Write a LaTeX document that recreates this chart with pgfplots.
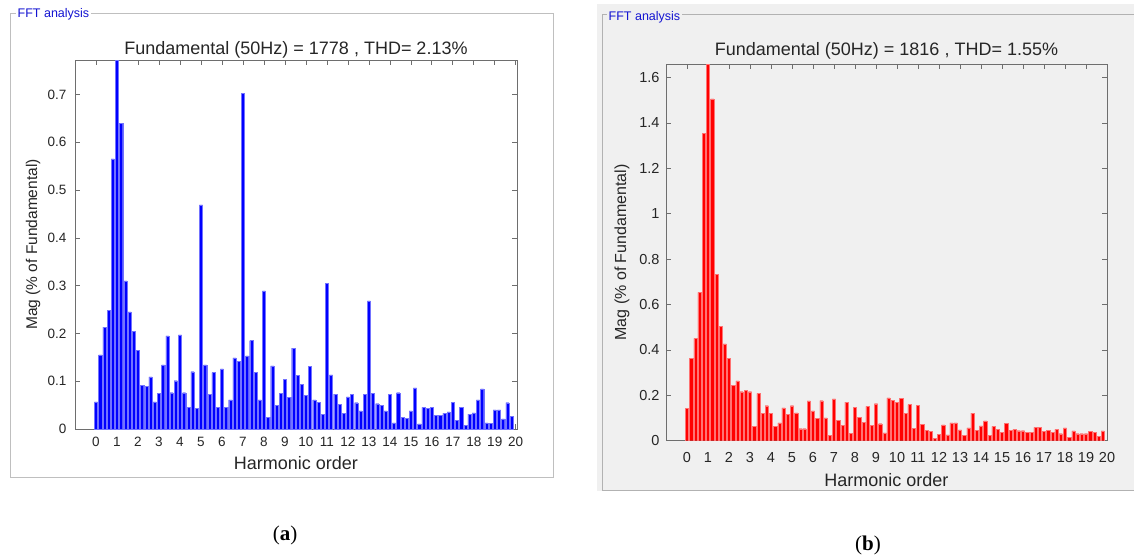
\documentclass[border=0pt]{standalone}
\usepackage{fontspec}
\setmainfont{Liberation Sans}
\newfontfamily\capfont{Liberation Serif}
\usepackage{pgfplots}
\pgfplotsset{compat=1.18}
\definecolor{txt}{RGB}{38,38,38}
\definecolor{axc}{RGB}{110,110,110}
\definecolor{panelbg}{RGB}{240,240,240}
\definecolor{fftblue}{RGB}{20,20,210}

\pgfplotstableread{
h v
0.0 0.057
0.2 0.155
0.4 0.213
0.6 0.248
0.8 0.565
1.0 0.772
1.2 0.639
1.4 0.310
1.6 0.245
1.8 0.204
2.0 0.164
2.2 0.092
2.4 0.089
2.6 0.109
2.8 0.057
3.0 0.075
3.2 0.134
3.4 0.195
3.6 0.076
3.8 0.101
4.0 0.197
4.2 0.076
4.4 0.045
4.6 0.120
4.8 0.043
5.0 0.469
5.2 0.134
5.4 0.073
5.6 0.118
5.8 0.045
6.0 0.126
6.2 0.045
6.4 0.061
6.6 0.149
6.8 0.141
7.0 0.702
7.2 0.153
7.4 0.185
7.6 0.118
7.8 0.061
8.0 0.289
8.2 0.024
8.4 0.132
8.6 0.049
8.8 0.074
9.0 0.104
9.2 0.066
9.4 0.169
9.6 0.112
9.8 0.093
10.0 0.070
10.2 0.131
10.4 0.061
10.6 0.056
10.8 0.031
11.0 0.305
11.2 0.113
11.4 0.073
11.6 0.051
11.8 0.033
12.0 0.067
12.2 0.072
12.4 0.055
12.6 0.038
12.8 0.073
13.0 0.268
13.2 0.074
13.4 0.053
13.6 0.050
13.8 0.038
14.0 0.073
14.2 0.013
14.4 0.076
14.6 0.025
14.8 0.022
15.0 0.038
15.2 0.086
15.4 0.011
15.6 0.045
15.8 0.043
16.0 0.045
16.2 0.028
16.4 0.028
16.6 0.033
16.8 0.036
17.0 0.056
17.2 0.018
17.4 0.045
17.6 0.008
17.8 0.031
18.0 0.034
18.2 0.061
18.4 0.084
18.6 0.013
18.8 0.012
19.0 0.040
19.2 0.040
19.4 0.021
19.6 0.055
19.8 0.026
}\dataA

\pgfplotstableread{
h v
0.0 0.142
0.2 0.363
0.4 0.451
0.6 0.653
0.8 1.354
1.0 1.660
1.2 1.505
1.4 0.733
1.6 0.505
1.8 0.426
2.0 0.363
2.2 0.245
2.4 0.264
2.6 0.216
2.8 0.223
3.0 0.216
3.2 0.062
3.4 0.209
3.6 0.120
3.8 0.154
4.0 0.120
4.2 0.062
4.4 0.079
4.6 0.145
4.8 0.117
5.0 0.154
5.2 0.123
5.4 0.053
5.6 0.053
5.8 0.175
6.0 0.131
6.2 0.098
6.4 0.176
6.6 0.101
6.8 0.023
7.0 0.184
7.2 0.091
7.4 0.068
7.6 0.170
7.8 0.032
8.0 0.147
8.2 0.103
8.4 0.081
8.6 0.151
8.8 0.068
9.0 0.163
9.2 0.075
9.4 0.034
9.6 0.189
9.8 0.179
10.0 0.169
10.2 0.188
10.4 0.120
10.6 0.159
10.8 0.054
11.0 0.157
11.2 0.073
11.4 0.047
11.6 0.041
11.8 0.010
12.0 0.028
12.2 0.070
12.4 0.026
12.6 0.079
12.8 0.079
13.0 0.048
13.2 0.023
13.4 0.057
13.6 0.122
13.8 0.047
14.0 0.065
14.2 0.087
14.4 0.025
14.6 0.063
14.8 0.050
15.0 0.038
15.2 0.076
15.4 0.046
15.6 0.050
15.8 0.044
16.0 0.044
16.2 0.037
16.4 0.037
16.6 0.059
16.8 0.059
17.0 0.041
17.2 0.047
17.4 0.038
17.6 0.050
17.8 0.031
18.0 0.057
18.2 0.016
18.4 0.043
18.6 0.031
18.8 0.031
19.0 0.031
19.2 0.040
19.4 0.038
19.6 0.018
19.8 0.043
}\dataB

\pgfplotsset{
  fftaxis/.style={
    scale only axis,
    anchor=south west,
    xmin=-1, xmax=20.06,
    ymin=0,
    xtick={0,1,...,20},
    tick align=inside,
    major tick length=5pt,
    axis line style={axc, line width=0.6pt},
    every tick/.style={axc, line width=0.6pt},
    tick label style={text=txt},
    /pgf/number format/assume math mode=true,
    title style={text=txt, at={(0.5,1)}, anchor=base, font=\fontsize{18}{20}\selectfont},
    xlabel style={text=txt, at={(0.5,0)}, anchor=base, font=\fontsize{18}{20}\selectfont},
    ylabel style={text=txt, at={(axis description cs:0,0.5)}, anchor=center},
    clip=true,
  },
}

\begin{document}
\begin{tikzpicture}
\path[use as bounding box] (0pt,0pt) rectangle (1134pt,-557pt);

% ---- panel (a) frame ----
\draw[draw=black!25, line width=0.8pt, fill=white] (10pt,-13pt) rectangle (553pt,-477pt);
\node[anchor=base west, text=fftblue, font=\fontsize{12.5}{14}\selectfont, fill=white, inner xsep=1.5pt, inner ysep=1pt] at (16pt,-17pt) {FFT analysis};

% ---- panel (b) frame ----
\fill[panelbg] (597pt,-4pt) rectangle (1134pt,-491pt);
\draw[draw=black!30, line width=0.8pt] (602pt,-14.6pt) -- (602pt,-490pt) -- (1134pt,-490pt);
\draw[draw=black!30, line width=0.8pt] (602pt,-14.6pt) -- (1134pt,-14.6pt);
\node[anchor=base west, text=fftblue, font=\fontsize{12.5}{14}\selectfont, fill=panelbg, inner xsep=1.5pt, inner ysep=1pt] at (607pt,-20pt) {FFT analysis};

% ---- axis (a) ----
\begin{axis}[fftaxis,
  at={(75pt,-429pt)},
  width=442pt, height=369pt,
  ymax=0.772,
  ytick={0,0.1,0.2,0.3,0.4,0.5,0.6,0.7},
  tick label style={font=\fontsize{13.5}{15}\selectfont},
  xticklabel style={yshift=-5pt},
  yticklabel style={xshift=-5pt},
  title={Fundamental (50Hz) = 1778 , THD= 2.13\%},
  title style={yshift=0pt},
  xlabel={Harmonic order},
  xlabel style={yshift=-40pt},
  ylabel={Mag (\% of Fundamental)},
  ylabel style={yshift=42pt, font=\fontsize{15.5}{17}\selectfont},
]
\addplot[ybar, bar width=0.15, fill=blue, draw=blue!55!white, line width=0.3pt] table[x=h, y=v] {\dataA};
\end{axis}

% ---- axis (b) ----
\begin{axis}[fftaxis,
  at={(666pt,-440.7pt)},
  width=441pt, height=376.7pt,
  xmax=20.0,
  ymax=1.659,
  ytick={0,0.2,0.4,0.6,0.8,1,1.2,1.4,1.6},
  tick label style={font=\fontsize{14.5}{16}\selectfont},
  xticklabel style={yshift=-8pt},
  yticklabel style={xshift=-3pt},
  title={Fundamental (50Hz) = 1816 , THD= 1.55\%},
  title style={yshift=3pt},
  xlabel={Harmonic order},
  xlabel style={yshift=-46pt},
  ylabel={Mag (\% of Fundamental)},
  ylabel style={yshift=44pt, font=\fontsize{16}{18}\selectfont},
]
\addplot[ybar, bar width=0.155, fill=red, draw=red!55!white, line width=0.3pt] table[x=h, y=v] {\dataB};
\end{axis}

% ---- captions ----
\node[font=\capfont\fontsize{21}{24}\selectfont, text=black] at (285pt,-535pt) {(\textbf{a})};
\node[font=\capfont\fontsize{21}{24}\selectfont, text=black] at (868pt,-545pt) {(\textbf{b})};
\end{tikzpicture}
\end{document}
